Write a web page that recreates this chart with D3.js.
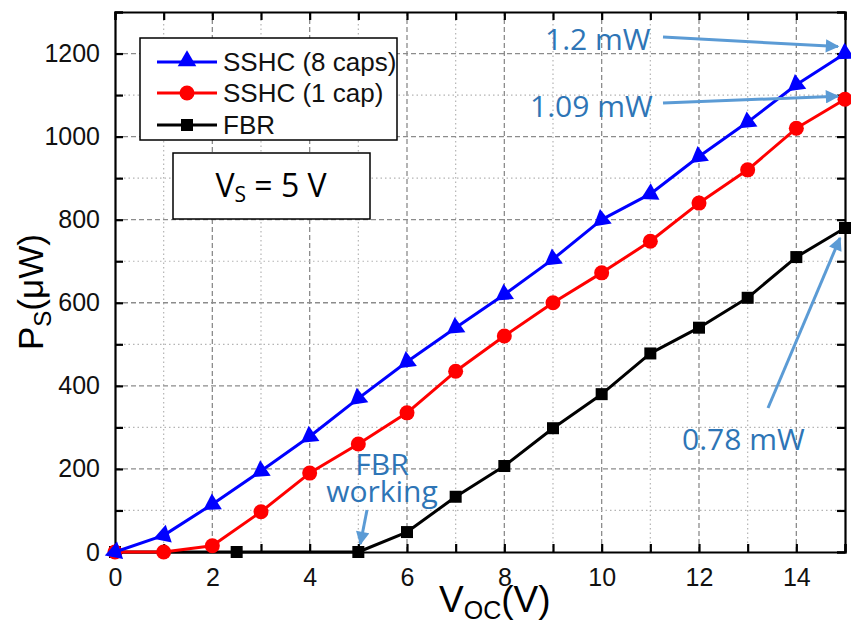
<!DOCTYPE html>
<html>
<head>
<meta charset="utf-8">
<script src="https://cdn.jsdelivr.net/npm/d3@7"></script>
<style>
  html, body { margin: 0; padding: 0; background: #fff; }
  svg { display: block; }
</style>
</head>
<body>
<svg id="chart" width="851" height="626"></svg>
<script>
// Output power P_S versus open-circuit voltage V_OC at V_S = 5 V
const voc = [0, 1, 2, 3, 4, 5, 6, 7, 8, 9, 10, 11, 12, 13, 14, 15];
const sshc8 = [0, 40, 115, 195, 278, 370, 458, 540, 620, 705, 800, 862, 952, 1035, 1125, 1200];
const sshc1 = [0, 0, 15, 97, 190, 260, 335, 435, 520, 600, 672, 748, 840, 920, 1020, 1090];
const fbrVoc = [0, 2.5, 5, 6, 7, 8, 9, 10, 11, 12, 13, 14, 15];
const fbr = [0, 0, 0, 48, 133, 207, 298, 380, 478, 540, 612, 710, 780];
const xTicks = [0, 2, 4, 6, 8, 10, 12, 14];
const yTicks = [0, 200, 400, 600, 800, 1000, 1200];
const seriesNames = ["SSHC (8 caps)", "SSHC (1 cap)", "FBR"];
const seriesColors = ["#0000ff", "#ff0000", "#000000"];

(function () {
const svg = d3.select("#chart");
const margin = { left: 115, right: 6, top: 12, bottom: 74 };
const W = 851 - margin.left - margin.right;
const H = 626 - margin.top - margin.bottom;

const x = d3.scaleLinear().domain([0, 15]).range([margin.left, margin.left + W]);
const y = d3.scaleLinear().domain([0, 1300]).range([margin.top + H, margin.top]);

const g = svg.append("g");

// grid: dashed at labelled ticks, dotted in between
const xMinor = d3.range(1, 15, 2);
const yMinor = d3.range(100, 1300, 200);
g.selectAll(".gx").data(xTicks.filter(d => d > 0)).join("line")
  .attr("x1", d => x(d)).attr("x2", d => x(d))
  .attr("y1", y(0)).attr("y2", y(1300))
  .attr("stroke", "#8c8c8c").attr("stroke-width", 1.3).attr("stroke-dasharray", "5,3");
g.selectAll(".gxm").data(xMinor).join("line")
  .attr("x1", d => x(d)).attr("x2", d => x(d))
  .attr("y1", y(0)).attr("y2", y(1300))
  .attr("stroke", "#b4b4b4").attr("stroke-width", 1.2).attr("stroke-dasharray", "1.5,3");
g.selectAll(".gy").data(yTicks.filter(d => d > 0)).join("line")
  .attr("x1", x(0)).attr("x2", x(15))
  .attr("y1", d => y(d)).attr("y2", d => y(d))
  .attr("stroke", "#8c8c8c").attr("stroke-width", 1.3).attr("stroke-dasharray", "5,3");
g.selectAll(".gym").data(yMinor).join("line")
  .attr("x1", x(0)).attr("x2", x(15))
  .attr("y1", d => y(d)).attr("y2", d => y(d))
  .attr("stroke", "#b4b4b4").attr("stroke-width", 1.2).attr("stroke-dasharray", "1.5,3");

// axes with inward ticks on all four sides
const allX = d3.range(0, 16, 1);
const allY = d3.range(0, 1301, 100);
const tickFmt = d3.format("d");
const axisFont = "'Liberation Sans', Arial, sans-serif";

const axB = g.append("g").attr("transform", `translate(0,${y(0)})`)
  .call(d3.axisBottom(x).tickValues(allX).tickSize(-8).tickPadding(16)
    .tickFormat(d => xTicks.includes(d) ? tickFmt(d) : ""));
const axT = g.append("g").attr("transform", `translate(0,${y(1300)})`)
  .call(d3.axisTop(x).tickValues(allX).tickSize(-8).tickFormat(""));
const axL = g.append("g").attr("transform", `translate(${x(0)},0)`)
  .call(d3.axisLeft(y).tickValues(allY).tickSize(-8).tickPadding(15)
    .tickFormat(d => yTicks.includes(d) ? tickFmt(d) : ""));
const axR = g.append("g").attr("transform", `translate(${x(15)},0)`)
  .call(d3.axisRight(y).tickValues(allY).tickSize(-8).tickFormat(""));

[axB, axT, axL, axR].forEach(a => {
  a.selectAll(".domain").attr("stroke", "#000").attr("stroke-width", 2.2);
  a.selectAll(".tick line").attr("stroke", "#000").attr("stroke-width", 2.2);
  a.selectAll("text").attr("font-family", axisFont).attr("font-size", 25).attr("fill", "#111");
});
axB.selectAll("text").attr("dy", "0.71em");

// data series, drawn back to front
const line = d3.line().x(d => x(d[0])).y(d => y(d[1]));
const fbrPts = fbrVoc.map((v, i) => [v, fbr[i]]);
const s1Pts = voc.map((v, i) => [v, sshc1[i]]);
const s8Pts = voc.map((v, i) => [v, sshc8[i]]);

function drawLine(pts, color) {
  g.append("path").datum(pts).attr("d", line)
    .attr("fill", "none").attr("stroke", color).attr("stroke-width", 3)
    .attr("stroke-linejoin", "round");
}

drawLine(fbrPts, seriesColors[2]);
g.selectAll(".sq").data(fbrPts).join("rect")
  .attr("x", d => x(d[0]) - 6).attr("y", d => y(d[1]) - 6)
  .attr("width", 12).attr("height", 12).attr("fill", seriesColors[2]);

drawLine(s1Pts, seriesColors[1]);
g.selectAll(".ci").data(s1Pts).join("circle")
  .attr("cx", d => x(d[0])).attr("cy", d => y(d[1])).attr("r", 7.5)
  .attr("fill", seriesColors[1]);

drawLine(s8Pts, seriesColors[0]);
// triangles oriented along the curve, tip towards the previous point
const tri = d3.symbol().type(d3.symbolTriangle).size(150);
g.selectAll(".tr").data(s8Pts).join("path")
  .attr("d", tri)
  .attr("fill", seriesColors[0])
  .attr("transform", (d, i) => {
    const a = i > 0 ? s8Pts[i - 1] : s8Pts[0];
    const b = i > 0 ? d : s8Pts[1];
    const ang = Math.atan2(y(a[1]) - y(b[1]), x(a[0]) - x(b[0])) * 180 / Math.PI;
    return `translate(${x(d[0])},${y(d[1])}) rotate(${ang + 90})`;
  });

// legend
const lg = svg.append("g");
lg.append("rect").attr("x", 140).attr("y", 38).attr("width", 257).attr("height", 102)
  .attr("fill", "#fff").attr("stroke", "#000").attr("stroke-width", 1.5);
const rows = [62, 93, 125];
seriesNames.forEach((name, i) => {
  const ry = rows[i];
  lg.append("line").attr("x1", 157).attr("x2", 217).attr("y1", ry).attr("y2", ry)
    .attr("stroke", seriesColors[i]).attr("stroke-width", 3);
  if (i === 0) {
    lg.append("path").attr("d", tri).attr("fill", seriesColors[i])
      .attr("transform", `translate(187,${ry - 1})`);
  } else if (i === 1) {
    lg.append("circle").attr("cx", 187).attr("cy", ry).attr("r", 7.5).attr("fill", seriesColors[i]);
  } else {
    lg.append("rect").attr("x", 181).attr("y", ry - 6).attr("width", 12).attr("height", 12)
      .attr("fill", seriesColors[i]);
  }
  lg.append("text").attr("x", 223).attr("y", ry + 9)
    .attr("font-family", axisFont).attr("font-size", 26).attr("fill", "#111")
    .text(name);
});

// supply voltage box
const annFont = "'Open Sans', 'Noto Sans', sans-serif";
svg.append("rect").attr("x", 173).attr("y", 153).attr("width", 197).attr("height", 66)
  .attr("fill", "#fff").attr("stroke", "#000").attr("stroke-width", 1.5);
const vs = svg.append("text").attr("x", 271).attr("y", 197).attr("text-anchor", "middle")
  .attr("font-family", annFont).attr("font-size", 32).attr("fill", "#000");
vs.append("tspan").text("V");
vs.append("tspan").attr("font-size", 21).attr("dy", 5).text("S");
vs.append("tspan").attr("dy", -5).text(" = 5 V");

// axis titles
const yt = svg.append("text")
  .attr("transform", "translate(43,350) rotate(-90)")
  .attr("font-family", axisFont).attr("font-size", 35).attr("fill", "#000");
yt.append("tspan").text("P");
yt.append("tspan").attr("font-size", 24).attr("dy", 8).text("S");
yt.append("tspan").attr("dy", -8).text("(\u03bcW)");

const xt = svg.append("text").attr("x", 439).attr("y", 612)
  .attr("font-family", axisFont).attr("font-size", 37).attr("fill", "#000");
xt.append("tspan").text("V");
xt.append("tspan").attr("font-size", 25).attr("dy", 7).text("OC");
xt.append("tspan").attr("dy", -7).text("(V)");

// callouts
const annColor = "#2e75b6";
const arrowColor = "#5b9bd5";
const defs = svg.append("defs");
defs.append("marker").attr("id", "ah").attr("viewBox", "0 0 10 10")
  .attr("refX", 9).attr("refY", 5).attr("markerWidth", 5).attr("markerHeight", 4.5)
  .attr("orient", "auto").attr("markerUnits", "strokeWidth")
  .append("path").attr("d", "M0,0 L10,5 L0,10 Z").attr("fill", arrowColor);

function arrow(x1, y1, x2, y2) {
  svg.append("line").attr("x1", x1).attr("y1", y1).attr("x2", x2).attr("y2", y2)
    .attr("stroke", arrowColor).attr("stroke-width", 3).attr("marker-end", "url(#ah)");
}
function note(tx, ty, lines, anchor, lh) {
  const t = svg.append("text").attr("x", tx).attr("y", ty).attr("text-anchor", anchor || "start")
    .attr("font-family", annFont).attr("font-size", 30).attr("fill", annColor);
  lines.forEach((s, i) => t.append("tspan").attr("x", tx).attr("dy", i ? lh : 0).text(s));
}

const last8 = s8Pts[s8Pts.length - 1], last1 = s1Pts[s1Pts.length - 1], lastF = fbrPts[fbrPts.length - 1];
note(545, 50, ["1.2 mW"]);
arrow(663, 37, x(last8[0]) - 7, y(last8[1]) - 7);
note(530, 117, ["1.09 mW"]);
arrow(663, 103, x(last1[0]) - 7, y(last1[1]) - 3);
note(682, 450, ["0.78 mW"]);
arrow(768, 408, x(lastF[0]) - 5, y(lastF[1]) + 10);
note(382, 475, ["FBR", "working"], "middle", 27);
arrow(367, 510, x(5) + 2, y(0) - 8);
})();
</script>
</body>
</html>
